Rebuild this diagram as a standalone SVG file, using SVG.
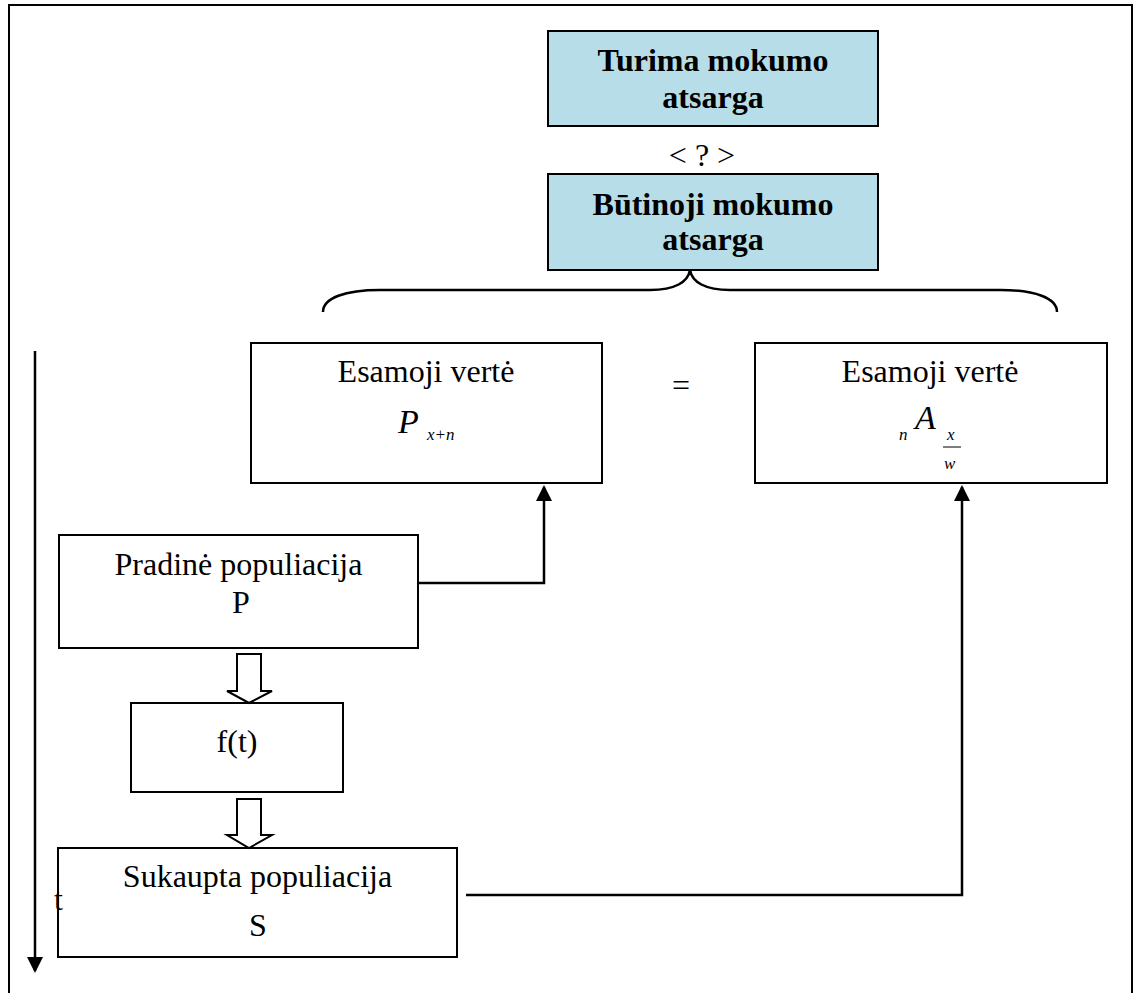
<svg xmlns="http://www.w3.org/2000/svg" width="1134" height="993" viewBox="0 0 1134 993">
<style>
text{font-family:"Liberation Serif","Times New Roman",serif;fill:#000}
.t{font-size:32px;text-anchor:middle}
.b{font-size:32px;font-weight:bold;text-anchor:middle}
.box{fill:#fff;stroke:#000;stroke-width:2}
.blue{fill:#B6DDE8;stroke:#000;stroke-width:2}
.ln{fill:none;stroke:#000;stroke-width:2.5}
.hol{fill:#fff;stroke:#000;stroke-width:2}
.it{font-style:italic}
</style>
<defs>
<marker id="ah" viewBox="0 0 16 16" refX="14" refY="8" markerWidth="16" markerHeight="16" markerUnits="userSpaceOnUse" orient="auto">
<path d="M0,0 L16,8 L0,16 z" fill="#000"/>
</marker>
</defs>
<rect x="0" y="0" width="1134" height="993" fill="#fff"/>
<rect x="9" y="5" width="1123" height="1000" fill="none" stroke="#000" stroke-width="2"/>

<g id="turima">
<rect class="blue" x="548" y="31" width="330" height="95"/>
<text class="b" x="713" y="71">Turima mokumo</text>
<text class="b" x="713" y="108">atsarga</text>
</g>
<text class="t" x="702" y="166">&lt; ? &gt;</text>
<g id="butinoji">
<rect class="blue" x="548" y="174" width="330" height="96"/>
<text class="b" x="713" y="215">Būtinoji mokumo</text>
<text class="b" x="713" y="250">atsarga</text>
</g>
<path class="ln" stroke-width="2" d="M323,312 C323,298 345,290 380,290 L650,290 C675,290 688,282 690,270 C692,282 705,290 730,290 L1000,290 C1035,290 1057,298 1057,312"/>

<g id="esamoji-p">
<rect class="box" x="251" y="343" width="351" height="140"/>
<text class="t" x="426" y="382">Esamoji vertė</text>
<text class="it" font-size="34" x="398" y="433">P</text>
<text class="it" font-size="17" x="427" y="440">x+n</text>
</g>
<text class="t" x="681" y="396">=</text>
<g id="esamoji-a">
<rect class="box" x="755" y="343" width="352" height="140"/>
<text class="t" x="930" y="382">Esamoji vertė</text>
<text class="it" font-size="17" x="899" y="440">n</text>
<text class="it" font-size="34" x="915" y="429">A</text>
<text class="it" font-size="17" x="947" y="440">x</text>
<line x1="943" y1="447" x2="961" y2="447" stroke="#000" stroke-width="1"/>
<text class="it" font-size="17" x="944" y="469">w</text>
</g>

<g id="pradine">
<rect class="box" x="59" y="535" width="359" height="113"/>
<text class="t" x="238.5" y="575">Pradinė populiacija</text>
<text class="t" x="241" y="613">P</text>
</g>
<g id="ft">
<rect class="box" x="131" y="703" width="212" height="89"/>
<text class="t" x="237" y="752">f(t)</text>
</g>
<g id="sukaupta">
<rect class="box" x="58" y="848" width="399" height="109"/>
<text class="t" x="257.5" y="887">Sukaupta populiacija</text>
<text class="t" x="258" y="936">S</text>
</g>
<text x="54" y="910" font-size="32">t</text>

<g id="connectors">
<path class="hol" d="M237,654 L261,654 L261,691 L272,691 L249,703 L227,691 L237,691 z"/>
<path class="hol" d="M237,799 L261,799 L261,835 L272,835 L249,848 L227,835 L237,835 z"/>
<path class="ln" d="M418,583 L544,583 L544,487" marker-end="url(#ah)"/>
<path class="ln" d="M466,895 L962,895 L962,487" marker-end="url(#ah)"/>
<path class="ln" d="M35,351 L35,971" marker-end="url(#ah)"/>
</g>
</svg>
